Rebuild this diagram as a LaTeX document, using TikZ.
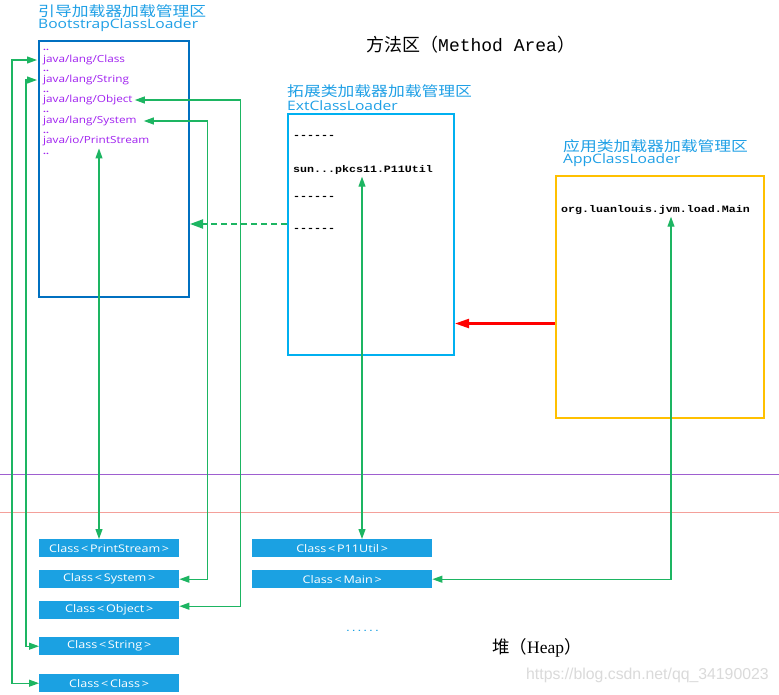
\documentclass[tikz,border=0pt]{standalone}
\usepackage{fontspec}
\usetikzlibrary{arrows.meta,calc}
\newfontfamily\uisans[FakeStretch=1.2]{Open Sans}
\newfontfamily\cjkw[FakeStretch=1.2]{Noto Sans CJK SC}
\newfontfamily\cjk{Noto Sans CJK SC}
\newfontfamily\monob[FakeStretch=1.2]{Liberation Mono}
\newfontfamily\monon{Liberation Mono}
\newfontfamily\serifl{Liberation Serif}
\newfontfamily\wmfont{Liberation Sans}
\definecolor{bsblue}{HTML}{0070C0}
\definecolor{extblue}{HTML}{00B0F0}
\definecolor{appyel}{HTML}{FFC000}
\definecolor{ttlc}{HTML}{1FA0E6}
\definecolor{purp}{HTML}{A020F0}
\definecolor{grn}{HTML}{1DB562}
\definecolor{heapblue}{HTML}{1BA1E2}
\definecolor{lnpurple}{HTML}{9E5FD0}
\definecolor{lnsalmon}{HTML}{F4A09A}
\definecolor{wmgray}{HTML}{DADADA}
\tikzset{
  areabox/.style={draw, line width=2pt, anchor=north west, inner sep=0pt},
  cjkttl/.style={anchor=west, inner sep=0pt, text=ttlc, font=\cjkw\fontsize{14}{15}\selectfont},
  enttl/.style={anchor=west, inner sep=0pt, text=ttlc, font=\uisans\fontsize{13}{15}\selectfont},
  item/.style={anchor=west, inner sep=0pt, text=purp, text height=7pt, text depth=1.5pt, font=\uisans\fontsize{9.8}{10}\selectfont},
  dotitem/.style={anchor=west, inner sep=0pt, text=purp, text height=1.5pt, text depth=0pt, font=\uisans\bfseries\fontsize{8.5}{8}\selectfont},
  monoitem/.style={anchor=west, inner sep=0pt, text=black, font=\monob\bfseries\fontsize{9.7}{11}\selectfont},
  hbox/.style={fill=heapblue, text=white, anchor=north west, inner sep=0pt, minimum height=18pt, font=\uisans\fontsize{10.5}{12}\selectfont},
  ga/.style={draw=grn, line width=1.1pt, arrows={Triangle[length=10pt,width=7pt]-Triangle[length=10pt,width=7pt]}},
}
\begin{document}
\begin{tikzpicture}[x=1pt,y=-1pt]
\useasboundingbox (0,0) rectangle (779,694);
\fill[white] (0,0) rectangle (779,694);

% method area title
\node[anchor=west, inner sep=0pt, font=\fontsize{18}{20}\selectfont] (ma) at (366,45) {\cjk 方法区（\monon Method Area\cjk ）};

% separator lines
\draw[lnpurple, line width=1pt] (0,474) -- (779,474);
\draw[lnsalmon, line width=1pt] (0,512) -- (779,512);

% bootstrap area
\node[areabox, draw=bsblue, minimum width=150pt, minimum height=256pt] (boot) at (38,40) {};
\node[cjkttl] (bootT1) at (38,11) {引导加载器加载管理区};
\node[enttl] (bootT2) at (38,25) {BootstrapClassLoader};
\node[dotitem] (bsd1) at (43,50) {..};
\node[item] (bsClass) at (43,60) {java/lang/Class};
\node[dotitem] (bsd2) at (43,71) {..};
\node[item] (bsString) at (43,80) {java/lang/String};
\node[dotitem] (bsd3) at (43,91.5) {..};
\node[item] (bsObject) at (43,100) {java/lang/Object};
\node[dotitem] (bsd4) at (43,112) {..};
\node[item] (bsSystem) at (43,121) {java/lang/System};
\node[dotitem] (bsd5) at (43,132.5) {..};
\node[item] (bsPrint) at (43,141) {java/io/PrintStream};
\node[dotitem] (bsd6) at (43,154) {..};

% ext area
\node[areabox, draw=extblue, minimum width=166pt, minimum height=241pt] (ext) at (287,113) {};
\node[cjkttl] (extT1) at (287,91) {拓展类加载器加载管理区};
\node[enttl] (extT2) at (287,106) {ExtClassLoader};
\node[monoitem] (e1) at (293,137) {------};
\node[monoitem] (sunP11) at (293,170) {sun...pkcs11.P11Util};
\node[monoitem] (e2) at (293,198) {------};
\node[monoitem] (e3) at (293,230) {------};

% app area
\node[areabox, draw=appyel, minimum width=208pt, minimum height=242pt] (app) at (555,175) {};
\node[cjkttl] (appT1) at (563,146) {应用类加载器加载管理区};
\node[enttl] (appT2) at (563,160) {AppClassLoader};
\node[monoitem] (mainTxt) at (561,210) {org.luanlouis.jvm.load.Main};

% heap boxes
\node[hbox, minimum width=140pt] (hPrint) at (39,539) {Class\,<\,PrintStream\,>};
\node[hbox, minimum width=140pt] (hSystem) at (39,570) {Class\,<\,System\,>};
\node[hbox, minimum width=140pt] (hObject) at (39,601) {Class\,<\,Object\,>};
\node[hbox, minimum width=140pt] (hString) at (39,637) {Class\,<\,String\,>};
\node[hbox, minimum width=140pt] (hClass) at (39,674) {Class\,<\,Class\,>};
\node[hbox, minimum width=180pt] (hP11) at (252,539) {Class\,<\,P11Util\,>};
\node[hbox, minimum width=180pt] (hMain) at (252,570) {Class\,<\,Main\,>};
\node[anchor=west, inner sep=0pt, text=heapblue, font=\monob\bfseries\fontsize{8}{10}\selectfont] (hdots) at (345,631) {......};
\node[anchor=west, inner sep=0pt, font=\fontsize{17.5}{20}\selectfont] (heapT) at (492,648) {\cjk 堆（\serifl Heap\cjk ）};
\node[anchor=west, inner sep=0pt, text=wmgray, font=\wmfont\fontsize{15.8}{18}\selectfont] (wm) at (526,675) {https://blog.csdn.net/qq\_34190023};

% connector end points
\coordinate (psTop) at ($(bsPrint.south west)+(56,3)$);
\coordinate (p11Top) at ($(sunP11.south west)+(69,2)$);
\coordinate (mainTop) at ($(mainTxt.south west)+(110,2)$);

% connectors
\draw[grn, line width=2pt, dash pattern=on 6pt off 4pt, -{Triangle[length=13pt,width=9pt]}] ([yshift=10.5pt]ext.west) -- ([yshift=10.5pt]ext.west -| boot.east);
\draw[red, line width=2.2pt, -{Triangle[length=14pt,width=9pt]}] ([yshift=-26.5pt]app.west) -- ([yshift=-26.5pt]app.west -| ext.east);

\draw[ga] ([xshift=-6pt]bsClass.west) -| ($(hClass.west)+(-27,0)$) -- (hClass.west);
\draw[ga] ([xshift=-6pt]bsString.west) -| ($(hString.west)+(-13,0)$) -- (hString.west);
\draw[ga] ([yshift=4pt]hObject.east) -- ++(61,0) |- ([xshift=2pt]bsObject.east);
\draw[ga] (hSystem.east) -- ++(28,0) |- ([xshift=7pt]bsSystem.east);
\draw[ga] (psTop) -- (psTop |- hPrint.north);
\draw[ga] (p11Top) -- (p11Top |- hP11.north);
\draw[ga] (mainTop) |- (hMain.east);
\end{tikzpicture}
\end{document}
